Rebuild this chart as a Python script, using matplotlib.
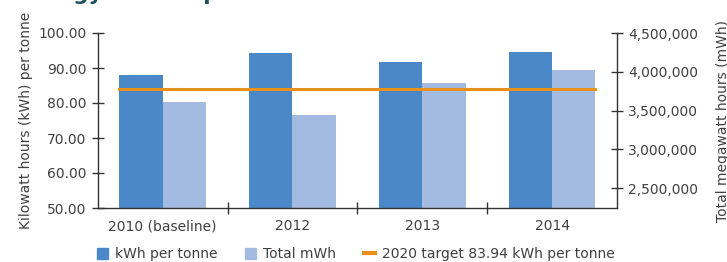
import matplotlib
matplotlib.use('Agg')
import matplotlib.pyplot as plt
import numpy as np
from matplotlib.patches import Patch
from matplotlib.lines import Line2D

# data
years = ['2010 (baseline)', '2012', '2013', '2014']
kwh_per_tonne = [87.9, 94.3, 91.7, 94.6]
total_mwh = [3610000, 3440000, 3855000, 4025000]
target_kwh = 83.94
left_ticks = [50, 60, 70, 80, 90, 100]
right_ticks = [2500000, 3000000, 3500000, 4000000, 4500000]

DARK = '#4a88c7'
LIGHT = '#a3bbe1'
ORANGE = '#e8901c'
TEXT = '#404040'
AXIS = '#333333'

plt.rcParams['font.family'] = ['DejaVu Sans']

fig = plt.figure(figsize=(7.27, 2.62), dpi=100)
ax = fig.add_axes([97.7 / 727, 1 - 208 / 262, (617 - 97.7) / 727, 175 / 262])
ax2 = ax.twinx()
ax.set_zorder(ax2.get_zorder() + 1)
ax.patch.set_visible(False)

x = np.arange(len(years))
w = 1 / 3
ax.bar(x - w / 2, kwh_per_tonne, width=w, color=DARK, zorder=2)
ax2.bar(x + w / 2, total_mwh, width=w, color=LIGHT, zorder=2)
ax.plot([x[0] - w, x[-1] + w], [target_kwh, target_kwh], color=ORANGE, lw=2.2, zorder=3)

# left axis
ax.set_xlim(-0.5, len(years) - 0.5)
ax.set_ylim(50, 100)
ax.set_yticks(left_ticks)
ax.set_yticklabels([f'{v:.2f}' for v in left_ticks])
ax.set_xticks(x)
ax.set_xticklabels(years)
ax.set_xticks(x[:-1] + 0.5, minor=True)
ax.tick_params(axis='x', which='major', length=0, pad=8, labelsize=10, labelcolor=TEXT)
ax.tick_params(axis='x', which='minor', direction='inout', length=8, width=1, color=AXIS)
ax.tick_params(axis='y', direction='inout', length=8, width=1, color=AXIS, pad=4,
               labelsize=10, labelcolor=TEXT)
ax.set_ylabel('Kilowatt hours (kWh) per tonne', fontsize=10, color=TEXT, labelpad=4)

# right axis
ax2.set_ylim(2242000, 4500000)
ax2.set_yticks(right_ticks)
ax2.set_yticklabels([f'{v:,}' for v in right_ticks])
ax2.tick_params(axis='y', direction='inout', length=8, width=1, color=AXIS, pad=4,
                labelsize=10, labelcolor=TEXT)
ax2.set_ylabel('Total megawatt hours (mWh)', fontsize=10, color=TEXT, labelpad=13)

for a in (ax, ax2):
    a.spines['top'].set_visible(False)
    for s in ('left', 'right', 'bottom'):
        a.spines[s].set_color(AXIS)
        a.spines[s].set_linewidth(1)
ax.spines['right'].set_visible(False)
ax2.spines['left'].set_visible(False)
ax2.spines['bottom'].set_visible(False)

# legend
handles = [
    Patch(color=DARK),
    Patch(color=LIGHT),
    Line2D([0], [0], color=ORANGE, lw=3),
]
labels = ['kWh per tonne', 'Total mWh', '2020 target 83.94 kWh per tonne']
fig.legend(handles, labels, loc='lower left', bbox_to_anchor=(84 / 727, -0.045),
           ncol=3, frameon=False, fontsize=10, handlelength=0.8, handleheight=0.8,
           handletextpad=0.5, columnspacing=2.0, labelcolor=TEXT)

# title, cut off at the top edge of the crop
fig.text(18 / 727, 1.0, 'Energy consumption', fontsize=15.5, weight='bold',
         color='#1d4f60', va='baseline', ha='left')

fig.savefig('out.png', dpi=100)
